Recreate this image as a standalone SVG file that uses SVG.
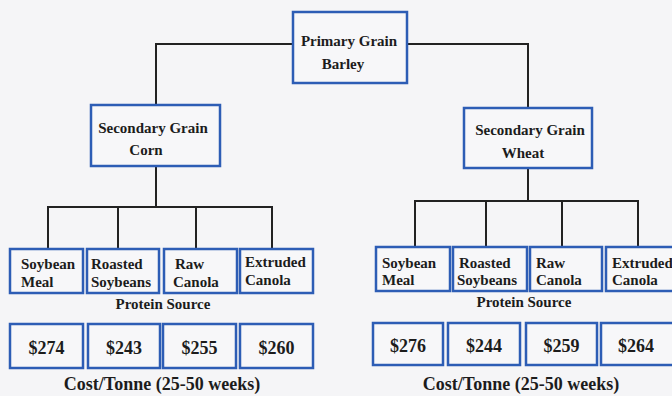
<svg xmlns="http://www.w3.org/2000/svg" width="672" height="396" viewBox="0 0 672 396">
<style>
.bg{fill:#f5f5f7}
.box{fill:#f7f7f9;stroke:#2d5db5;stroke-width:2.5}
.t{font-family:"Liberation Serif","Times New Roman",serif;font-weight:bold;font-size:15px;fill:#1c1c1c}
.c{text-anchor:middle}
.big{font-size:18px}
.ln{stroke:#222;stroke-width:2;fill:none}
</style>
<rect class="bg" width="672" height="396"/>
<g id="connectors">
<polyline class="ln" points="293,44 156,44 156,105"/>
<polyline class="ln" points="407,44 528,44 528,108"/>
<line class="ln" x1="156" y1="166" x2="156" y2="207"/>
<polyline class="ln" points="48,249 48,207 272,207 272,249"/>
<line class="ln" x1="118" y1="207" x2="118" y2="249"/>
<line class="ln" x1="196" y1="207" x2="196" y2="249"/>
<line class="ln" x1="528" y1="168" x2="528" y2="201"/>
<polyline class="ln" points="415,247 415,201 638,201 638,247"/>
<line class="ln" x1="486" y1="201" x2="486" y2="247"/>
<line class="ln" x1="562" y1="201" x2="562" y2="247"/>
</g>
<g id="primary">
<rect class="box" x="293" y="12" width="114" height="71"/>
<text class="t c" x="349" y="46">Primary Grain</text>
<text class="t c" x="343" y="69">Barley</text>
</g>
<g id="corn">
<rect class="box" x="91" y="105" width="129" height="61"/>
<text class="t c" x="153" y="133">Secondary Grain</text>
<text class="t c" x="146" y="155">Corn</text>
</g>
<g id="wheat">
<rect class="box" x="464" y="108" width="128" height="60"/>
<text class="t c" x="530" y="135">Secondary Grain</text>
<text class="t c" x="523" y="158">Wheat</text>
</g>
<g id="corn-soybean-meal">
<rect class="box" x="10" y="249" width="73" height="44"/>
<text class="t" x="21" y="269">Soybean</text>
<text class="t" x="21" y="287">Meal</text>
</g>
<g id="corn-roasted-soybeans">
<rect class="box" x="87" y="249" width="72" height="44"/>
<text class="t" x="91" y="269">Roasted</text>
<text class="t" x="91" y="287">Soybeans</text>
</g>
<g id="corn-raw-canola">
<rect class="box" x="164" y="249" width="73" height="44"/>
<text class="t" x="175" y="269">Raw</text>
<text class="t" x="173" y="287">Canola</text>
</g>
<g id="corn-extruded-canola">
<rect class="box" x="240" y="249" width="73" height="44"/>
<text class="t" x="245" y="267">Extruded</text>
<text class="t" x="245" y="285">Canola</text>
</g>
<text class="t c" x="163" y="309">Protein Source</text>
<g id="wheat-soybean-meal">
<rect class="box" x="376" y="247" width="74" height="44"/>
<text class="t" x="382" y="268">Soybean</text>
<text class="t" x="382" y="285">Meal</text>
</g>
<g id="wheat-roasted-soybeans">
<rect class="box" x="453" y="247" width="74" height="44"/>
<text class="t" x="459" y="268">Roasted</text>
<text class="t" x="457" y="285">Soybeans</text>
</g>
<g id="wheat-raw-canola">
<rect class="box" x="530" y="247" width="72" height="44"/>
<text class="t" x="536" y="268">Raw</text>
<text class="t" x="536" y="285">Canola</text>
</g>
<g id="wheat-extruded-canola">
<rect class="box" x="606" y="247" width="70" height="44"/>
<text class="t" x="612" y="268">Extruded</text>
<text class="t" x="612" y="285">Canola</text>
</g>
<text class="t c" x="524" y="307">Protein Source</text>
<g id="cost-corn-1"><rect class="box" x="10" y="324" width="73" height="44"/><text class="t c big" x="46.5" y="354">$274</text></g>
<g id="cost-corn-2"><rect class="box" x="88" y="324" width="72" height="44"/><text class="t c big" x="124" y="354">$243</text></g>
<g id="cost-corn-3"><rect class="box" x="163" y="324" width="73" height="44"/><text class="t c big" x="199.5" y="354">$255</text></g>
<g id="cost-corn-4"><rect class="box" x="240" y="324" width="73" height="44"/><text class="t c big" x="276.5" y="354">$260</text></g>
<text class="t c big" x="162" y="390">Cost/Tonne (25-50 weeks)</text>
<g id="cost-wheat-1"><rect class="box" x="373" y="323" width="70" height="42"/><text class="t c big" x="408" y="352">$276</text></g>
<g id="cost-wheat-2"><rect class="box" x="448" y="323" width="72" height="42"/><text class="t c big" x="484" y="352">$244</text></g>
<g id="cost-wheat-3"><rect class="box" x="526" y="323" width="71" height="42"/><text class="t c big" x="561.5" y="352">$259</text></g>
<g id="cost-wheat-4"><rect class="box" x="601" y="323" width="73" height="42"/><text class="t c big" x="636" y="352">$264</text></g>
<text class="t c big" x="521" y="390">Cost/Tonne (25-50 weeks)</text>
</svg>
